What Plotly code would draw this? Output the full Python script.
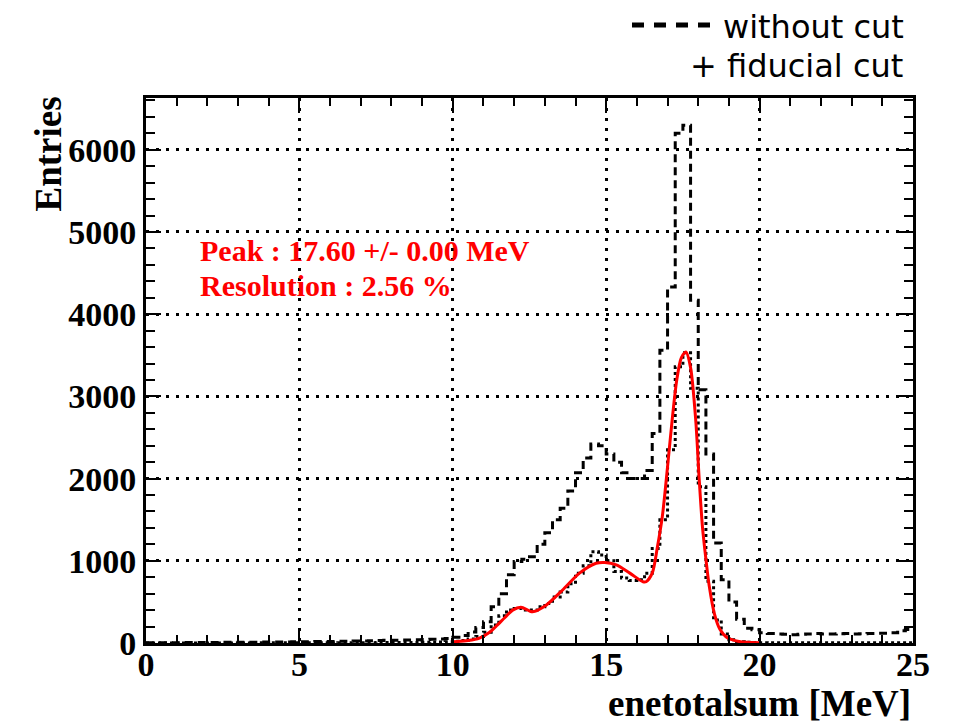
import numpy as np
import plotly.graph_objects as go

# ---------------- data ----------------
bin_width = 0.25
x_min, x_max = 0.0, 25.0

# "without cut" histogram, 0.25 MeV bins from 0 to 25 (one row = 1 MeV)
without_cut = [
    2, 3, 3, 4,
    4, 5, 5, 6,
    6, 7, 8, 8,
    9, 10, 10, 11,
    12, 12, 13, 14,
    15, 16, 17, 18,
    19, 20, 22, 24,
    25, 27, 30, 32,
    34, 36, 38, 40,
    42, 45, 50, 55,
    70, 90, 135, 190,
    260, 440, 600, 830,
    990, 1020, 1050, 1200,
    1340, 1500, 1640, 1850,
    2070, 2250, 2420, 2400,
    2300, 2200, 2070, 2000,
    2000, 2100, 2550, 3560,
    4330, 6200, 6300, 4170,
    3080, 2300, 1215, 770,
    500, 290, 180, 160,
    125, 115, 110, 105,
    100, 105, 110, 115,
    110, 108, 112, 115,
    110, 112, 115, 118,
    120, 125, 150, 165,
]

# "fiducial cut" histogram, same binning
fiducial_cut = [
    0, 0, 0, 0,
    0, 0, 0, 1,
    1, 1, 1, 1,
    1, 1, 2, 2,
    2, 2, 2, 3,
    3, 3, 3, 3,
    3, 4, 4, 4,
    4, 4, 5, 5,
    5, 5, 6, 6,
    8, 10, 12, 15,
    20, 30, 50, 80,
    130, 220, 330, 400,
    420, 400, 400, 440,
    480, 560, 620, 720,
    850, 940, 1110, 1070,
    1000, 870, 790, 760,
    770, 850, 1150, 1500,
    2350, 3360, 3530, 3100,
    1900, 750, 280, 110,
    40, 15, 8, 5,
    4, 3, 3, 3,
    3, 3, 3, 3,
    3, 3, 3, 3,
    3, 3, 3, 3,
    3, 3, 3, 3,
]

# fit curve, points
fit_energy = [10.0, 10.5, 10.87, 11.2, 11.4, 11.7, 11.95, 12.22, 12.6, 13.04,
              13.58, 14.13, 14.67, 14.95, 15.33, 15.77, 16.2, 16.3, 16.5, 16.67,
              16.83, 17.0, 17.16, 17.3, 17.45, 17.6, 17.75, 17.92, 18.03, 18.14,
              18.25, 18.36, 18.53, 18.7, 18.96, 19.33, 19.6, 20.0]
fit_entries = [15, 30, 60, 130, 200, 310, 400, 435, 380, 460,
               645, 850, 970, 980, 950, 850, 745, 745, 850, 1170,
               1540, 2145, 2750, 3200, 3470, 3540, 3350, 2700, 2000, 1400,
               1020, 690, 350, 170, 60, 18, 8, 3]

x_ticks = [0, 5, 10, 15, 20, 25]
y_ticks = [0, 1000, 2000, 3000, 4000, 5000, 6000]
y_max = 6630

peak_text = "Peak : 17.60 +/- 0.00 MeV"
res_text = "Resolution : 2.56 %"
legend_labels = ["without cut", "fiducial cut"]
x_title = "enetotalsum [MeV]"
y_title = "Entries"

# ---------------- figure ----------------
edges = np.arange(x_min, x_max + bin_width / 2, bin_width)

def step_y(vals):
    return list(vals) + [vals[-1]]

fig = go.Figure()
fig.add_trace(go.Scatter(
    x=edges, y=step_y(without_cut), mode="lines", line_shape="hv",
    line=dict(color="black", width=3, dash="8px,5px"), showlegend=False))
fig.add_trace(go.Scatter(
    x=edges, y=step_y(fiducial_cut), mode="lines", line_shape="hv",
    line=dict(color="black", width=3, dash="3px,3px"), showlegend=False))
fig.add_trace(go.Scatter(
    x=fit_energy, y=fit_entries, mode="lines", line_shape="spline",
    line=dict(color="#ff0000", width=3, smoothing=0.8), showlegend=False))

L, R, T, B = 146, 42, 98, 82
W, H = 955, 725
pw, ph = W - L - R, H - T - B

def px(xp):
    return (xp - L) / pw

def py(yp):
    return (H - B - yp) / ph

tickfont = dict(family="Liberation Serif", size=34, color="black", weight="bold")

fig.update_xaxes(
    range=[x_min, x_max], tickvals=x_ticks, ticktext=[str(v) for v in x_ticks],
    showline=True, linecolor="black", linewidth=3, mirror="allticks",
    ticks="inside", ticklen=15, tickwidth=2, tickcolor="black",
    minor=dict(dtick=1, ticks="inside", ticklen=8, tickwidth=2, tickcolor="black", showgrid=False),
    showgrid=True, gridcolor="black", gridwidth=3, griddash="3px,7px",
    zeroline=False, tickfont=tickfont,
)
fig.update_yaxes(
    range=[0, y_max], tickvals=y_ticks, ticktext=[str(v) for v in y_ticks],
    showline=True, linecolor="black", linewidth=3, mirror="allticks",
    ticks="inside", ticklen=15, tickwidth=2, tickcolor="black",
    minor=dict(dtick=200, ticks="inside", ticklen=9, tickwidth=2, tickcolor="black", showgrid=False),
    showgrid=True, gridcolor="black", gridwidth=3, griddash="3px,7px",
    zeroline=False, tickfont=tickfont,
)
try:
    fig.update_xaxes(ticklabelstandoff=-11)
except Exception:
    pass

annotations = [
    dict(text=x_title, x=px(913), y=py(726), xref="paper", yref="paper",
         xanchor="right", yanchor="bottom", showarrow=False,
         font=dict(family="Liberation Serif", size=37, color="black", weight="bold")),
    dict(text=y_title, x=px(48), y=py(95), xref="paper", yref="paper",
         xanchor="center", yanchor="top", textangle=-90, showarrow=False,
         font=dict(family="Liberation Serif", size=37, color="black", weight="bold")),
    dict(text=peak_text, x=px(198), y=py(251), xref="paper", yref="paper",
         xanchor="left", yanchor="middle", showarrow=False,
         font=dict(family="Liberation Serif", size=30, color="#ff0000", weight="bold")),
    dict(text=res_text, x=px(198), y=py(285), xref="paper", yref="paper",
         xanchor="left", yanchor="middle", showarrow=False,
         font=dict(family="Liberation Serif", size=30, color="#ff0000", weight="bold")),
    dict(text=legend_labels[0], x=px(721), y=py(27), xref="paper", yref="paper",
         xanchor="left", yanchor="middle", showarrow=False,
         font=dict(family="DejaVu Sans", size=32, color="black")),
    dict(text="+ " + legend_labels[1], x=px(688), y=py(66), xref="paper", yref="paper",
         xanchor="left", yanchor="middle", showarrow=False,
         font=dict(family="DejaVu Sans", size=32, color="black")),
]

shapes = [
    dict(type="line", xref="paper", yref="paper", x0=px(632), x1=px(710),
         y0=py(25), y1=py(25), line=dict(color="black", width=5, dash="12px,10px")),
]

fig.update_layout(
    width=W, height=H, margin=dict(l=L, r=R, t=T, b=B),
    paper_bgcolor="white", plot_bgcolor="white",
    annotations=annotations, shapes=shapes, showlegend=False,
)

fig.write_html("out.html")
